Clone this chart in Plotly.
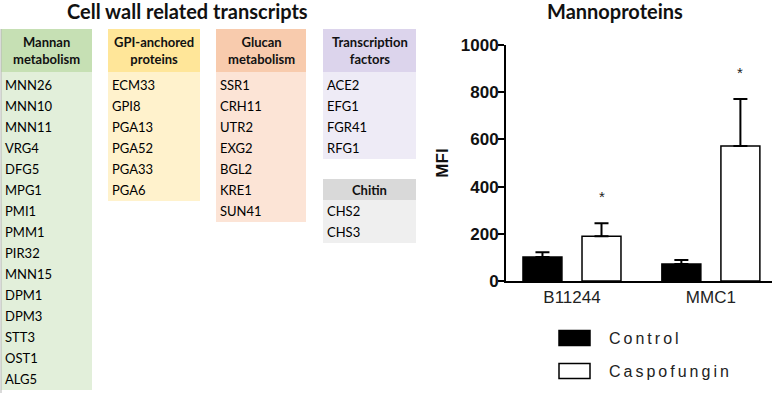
import plotly.graph_objects as go

W, H = 775, 393

# ---------------- data ----------------
strains = ["B11244", "MMC1"]
control_mfi = [102, 72]
control_err = [20, 17]
caspo_mfi = [190, 572]
caspo_err = [55, 199]
star_y = [360, 885]
y_ticks = [0, 200, 400, 600, 800, 1000]

mannan_genes = ["MNN26", "MNN10", "MNN11", "VRG4", "DFG5", "MPG1", "PMI1", "PMM1",
                "PIR32", "MNN15", "DPM1", "DPM3", "STT3", "OST1", "ALG5"]
gpi_genes = ["ECM33", "GPI8", "PGA13", "PGA52", "PGA33", "PGA6"]
glucan_genes = ["SSR1", "CRH11", "UTR2", "EXG2", "BGL2", "KRE1", "SUN41"]
tf_genes = ["ACE2", "EFG1", "FGR41", "RFG1"]
chitin_genes = ["CHS2", "CHS3"]

# ---------------- helpers ----------------
def px(x):
    return x / W


def py(y):
    return 1 - y / H


TXT = "Lato, Calibri, sans-serif"
ARIAL = "Arial, Liberation Sans, sans-serif"

shapes = []
annotations = []

# table blocks: (header, genes, x0, x1, header_top, header_bottom, first_row, header colour, body colour)
blocks = [
    ("Mannan<br>metabolism", mannan_genes, 1, 92, 29, 72, 85, "#c6e0b4", "#e2efda"),
    ("GPI-anchored<br>proteins", gpi_genes, 108, 200, 29, 72, 85, "#ffe699", "#fff2cc"),
    ("Glucan<br>metabolism", glucan_genes, 216, 306, 29, 72, 85, "#f8cbad", "#fce4d6"),
    ("Transcription<br>factors", tf_genes, 323, 416, 29, 72, 85, "#dcd4ec", "#eeebf6"),
    ("Chitin", chitin_genes, 323, 416, 179, 200, 211, "#d9d9d9", "#efefef"),
]
ROW = 21
for head, genes, x0, x1, ht, hb, fr, hc, bc in blocks:
    last = fr + ROW * (len(genes) - 1)
    shapes.append(dict(type="rect", xref="paper", yref="paper", x0=px(x0), x1=px(x1),
                       y0=py(ht), y1=py(hb), fillcolor=hc, line=dict(width=0), layer="below"))
    shapes.append(dict(type="rect", xref="paper", yref="paper", x0=px(x0), x1=px(x1),
                       y0=py(hb), y1=py(min(last + 11, H)), fillcolor=bc, line=dict(width=0),
                       layer="below"))
    annotations.append(dict(xref="paper", yref="paper", x=px((x0 + x1) / 2), y=py((ht + hb) / 2),
                            text=head, showarrow=False, xanchor="center", yanchor="middle",
                            font=dict(family=TXT, size=13, color="#111", weight="bold")))
    for i, g in enumerate(genes):
        annotations.append(dict(xref="paper", yref="paper", x=px(x0 + 2), y=py(fr + ROW * i),
                                text=g, showarrow=False, xanchor="left", yanchor="middle",
                                align="left",
                                font=dict(family=TXT, size=13, color="#000")))

# left border of mannan column
shapes.append(dict(type="line", xref="paper", yref="paper", x0=px(1), x1=px(1),
                   y0=py(29), y1=py(H), line=dict(color="#b5b5b5", width=1)))

# titles
annotations.append(dict(xref="paper", yref="paper", x=px(187), y=py(11),
                        text="Cell wall related transcripts", showarrow=False,
                        xanchor="center", yanchor="middle",
                        font=dict(family=TXT, size=20, color="#111", weight="bold")))
annotations.append(dict(xref="paper", yref="paper", x=px(615), y=py(11),
                        text="Mannoproteins", showarrow=False,
                        xanchor="center", yanchor="middle",
                        font=dict(family=TXT, size=20, color="#111", weight="bold")))

# ---------------- bar chart ----------------
fig = go.Figure()
fig.add_trace(go.Bar(
    x=strains, y=control_mfi, name="Control",
    marker=dict(color="black", line=dict(color="black", width=1.5)),
    error_y=dict(type="data", symmetric=False, array=control_err,
                 arrayminus=[0] * len(control_err), color="black", thickness=2, width=7),
    showlegend=False,
))
fig.add_trace(go.Bar(
    x=strains, y=caspo_mfi, name="Caspofungin",
    marker=dict(color="white", line=dict(color="black", width=1.5)),
    error_y=dict(type="data", symmetric=False, array=caspo_err,
                 arrayminus=[0] * len(caspo_err), color="black", thickness=2, width=7),
    showlegend=False,
))

BARGAP = 0.15
slot = (1 - BARGAP) / 2
for i, ys in enumerate(star_y):
    annotations.append(dict(xref="x", yref="y", x=i + slot / 2, y=ys, text="*",
                            showarrow=False, xanchor="center", yanchor="middle",
                            font=dict(family=ARIAL, size=15, color="#222")))

# custom legend
legend_items = [("Control", "black", 338), ("Caspofungin", "white", 371)]
for label, fill, yc in legend_items:
    shapes.append(dict(type="rect", xref="paper", yref="paper", x0=px(559), x1=px(590),
                       y0=py(yc - 7.5), y1=py(yc + 7.5), fillcolor=fill,
                       line=dict(color="black", width=1.5)))
    annotations.append(dict(xref="paper", yref="paper", x=px(607), y=py(yc), text=label,
                            showarrow=False, xanchor="left", yanchor="middle", align="left",
                            font=dict(family=ARIAL, size=16, color="#222")))

fig.update_layout(
    width=W, height=H, autosize=False,
    margin=dict(l=0, r=0, t=0, b=0, pad=0, autoexpand=False),
    paper_bgcolor="white", plot_bgcolor="white",
    barmode="group", bargap=BARGAP, bargroupgap=0.34,
    shapes=shapes, annotations=annotations,
    xaxis=dict(domain=[px(506), px(772)], type="category", range=[-0.475, 1.44],
               showline=True, linecolor="black", linewidth=2, ticks="",
               showgrid=False, zeroline=False, automargin=False,
               tickfont=dict(family=ARIAL, size=17, color="#222")),
    yaxis=dict(domain=[py(281), py(45)], range=[0, 1000], tickvals=y_ticks,
               showline=True, linecolor="black", linewidth=2,
               ticks="outside", ticklen=6, tickwidth=2, tickcolor="black",
               ticklabelstandoff=-4,
               showgrid=False, zeroline=False, automargin=False,
               tickfont=dict(family=ARIAL, size=17, color="#111", weight="bold"),
               title=dict(text="MFI", standoff=8,
                          font=dict(family=ARIAL, size=17, color="#111", weight="bold"))),
)

post = """
(function(){
  document.documentElement.style.margin = '0';
  document.body.style.margin = '0';
  document.body.style.padding = '0';
  document.body.style.overflow = 'hidden';
  function ls(){
    document.querySelectorAll('text.annotation-text').forEach(function(t){
      if (t.textContent === 'Control' || t.textContent === 'Caspofungin') {
        t.style.letterSpacing = '3px';
      }
    });
  }
  ls();
  var gd = document.querySelector('.plotly-graph-div');
  if (gd && gd.on) { gd.on('plotly_afterplot', ls); }
})();
"""

fig.write_html("out.html", post_script=post, config={"responsive": False, "displayModeBar": False})
